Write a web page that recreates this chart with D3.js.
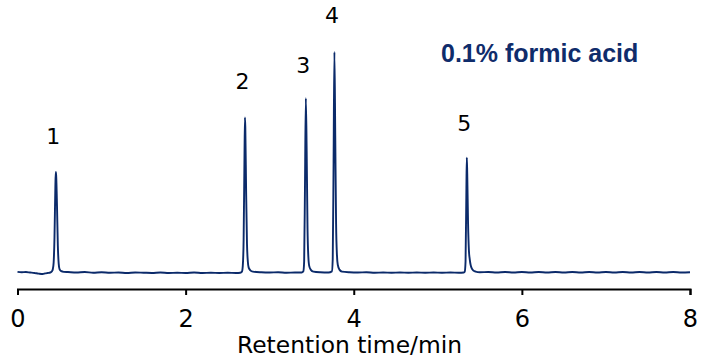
<!DOCTYPE html>
<html>
<head>
<meta charset="utf-8">
<script src="https://cdn.jsdelivr.net/npm/d3@7"></script>
<style>
  html, body { margin: 0; padding: 0; background: #fff; }
  svg { display: block; }
</style>
</head>
<body>
<svg id="chart" width="705" height="360"></svg>
<script>
// ---- Data ----
// x tick labels (minutes)
const xTicks = [0, 2, 4, 6, 8];
// peak numbers, retention times (min) and relative heights
const peakLabels = ["1", "2", "3", "4", "5"];
const peakTimes = [0.455, 2.706, 3.43, 3.77, 5.345];
const peakHeights = [45.6, 70.3, 79.0, 100, 52.1];
const title = "0.1% formic acid";
const xLabel = "Retention time/min";

// detector trace: [time (min), relative signal]
const trace = [
  [0.00, 0.3], [0.05, 0.1], [0.10, 0.2], [0.15, 0.0], [0.20, -0.2], [0.25, -0.5],
  [0.30, -0.7], [0.33, -0.4], [0.36, -0.2], [0.39, 0.0], [0.41, 0.6], [0.42, 1.5],
  [0.43, 4.5], [0.44, 16], [0.45, 38], [0.455, 45.6], [0.46, 44], [0.47, 30],
  [0.48, 12], [0.49, 4], [0.50, 1.5], [0.52, 0.6], [0.55, 0.3], [0.60, 0.2],
  [0.70, 0.0], [0.80, 0.2], [0.90, -0.1], [1.00, 0.1], [1.10, -0.1], [1.20, 0.0],
  [1.30, -0.2], [1.40, 0.0], [1.50, -0.1], [1.60, -0.2], [1.70, 0.0], [1.80, -0.2],
  [1.90, -0.1], [2.00, -0.2], [2.10, 0.0], [2.20, -0.2], [2.30, -0.1], [2.40, -0.2],
  [2.50, -0.1], [2.60, -0.2], [2.65, -0.1], [2.67, 0.4], [2.68, 3],
  [2.69, 15], [2.70, 52], [2.706, 70.3], [2.71, 66], [2.72, 36], [2.73, 13],
  [2.74, 5], [2.75, 2.2], [2.77, 1.0], [2.80, 0.4], [2.90, 0.1], [3.00, 0.0],
  [3.10, 0.1], [3.20, -0.1], [3.30, 0.0], [3.38, 0.0], [3.40, 0.5], [3.41, 5],
  [3.42, 40], [3.43, 79], [3.44, 55], [3.45, 20], [3.46, 7], [3.47, 3],
  [3.49, 1.2], [3.52, 0.4], [3.60, 0.1], [3.70, 0.0], [3.74, 0.5], [3.75, 6],
  [3.76, 50], [3.77, 100], [3.78, 62], [3.79, 22], [3.80, 8], [3.81, 3.5],
  [3.83, 1.3], [3.86, 0.4], [3.95, 0.1], [4.05, 0.0], [4.15, 0.1], [4.25, -0.1],
  [4.35, 0.0], [4.45, -0.1], [4.55, 0.0], [4.65, -0.1], [4.75, 0.0], [4.85, -0.1],
  [4.95, 0.0], [5.05, -0.1], [5.15, 0.0], [5.25, -0.1], [5.31, 0.0], [5.32, 0.3],
  [5.33, 5], [5.34, 38], [5.345, 52.1], [5.35, 45], [5.36, 22], [5.37, 10],
  [5.38, 6], [5.39, 3.5], [5.40, 2.2], [5.42, 1.0], [5.45, 0.4], [5.50, 0.1],
  [5.60, 0.2], [5.70, 0.0], [5.80, 0.2], [5.90, 0.0], [6.00, 0.2], [6.10, 0.0],
  [6.20, 0.2], [6.30, 0.0], [6.40, 0.2], [6.50, 0.0], [6.60, 0.2], [6.70, 0.0],
  [6.80, 0.2], [6.90, 0.0], [7.00, 0.2], [7.10, 0.0], [7.20, 0.2], [7.30, 0.0],
  [7.40, 0.2], [7.50, 0.0], [7.60, 0.2], [7.70, 0.0], [7.80, 0.2], [7.90, 0.0],
  [8.00, 0.1]
];

// ---- Layout ----
const svg = d3.select("#chart");
const lineColor = "#0b2a6a";
const x = d3.scaleLinear().domain([0, 8]).range([17.5, 690]);
const y = d3.scaleLinear().domain([0, 100]).range([272.5, 52]);
const axisY = 289;

// trace
const line = d3.line().x(d => x(d[0])).y(d => y(d[1])).curve(d3.curveMonotoneX);
svg.append("path")
  .datum(trace)
  .attr("d", line)
  .attr("fill", "none")
  .attr("stroke", lineColor)
  .attr("stroke-width", 1.9)
  .attr("stroke-linejoin", "round");

// x axis
const xAxis = d3.axisBottom(x).tickValues(xTicks).tickSize(6).tickSizeOuter(6)
  .tickFormat(d3.format("d"));
const gx = svg.append("g").attr("transform", `translate(0,${axisY})`).call(xAxis);
gx.select(".domain").attr("stroke", "#000").attr("stroke-width", 2);
gx.selectAll(".tick line").attr("stroke", "#000").attr("stroke-width", 2);
gx.selectAll(".tick text")
  .attr("y", 38).attr("dy", 0)
  .attr("fill", "#000")
  .style("font-family", "DejaVu Sans, sans-serif")
  .style("font-size", "24px");

// axis title
svg.append("text")
  .attr("x", 349.5).attr("y", 352.5)
  .attr("text-anchor", "middle")
  .attr("textLength", 225).attr("lengthAdjust", "spacingAndGlyphs")
  .style("font-family", "DejaVu Sans, sans-serif")
  .style("font-size", "23.5px")
  .attr("fill", "#000")
  .text(xLabel);

// peak labels
const labelOffsets = [36, 36, 33, 37, 35];
svg.selectAll(".plabel")
  .data(peakLabels)
  .join("text")
  .attr("class", "plabel")
  .attr("x", (d, i) => x(peakTimes[i]) - 2.5)
  .attr("y", (d, i) => y(peakHeights[i]) - labelOffsets[i] + 8)
  .attr("text-anchor", "middle")
  .style("font-family", "DejaVu Sans, sans-serif")
  .style("font-size", "22px")
  .attr("fill", "#000")
  .text(d => d);

// title
svg.append("text")
  .attr("x", 441).attr("y", 61.5)
  .style("font-family", "Liberation Sans, Arial, sans-serif")
  .style("font-weight", "bold")
  .style("font-size", "25px")
  .attr("fill", "#0f2c6b")
  .text(title);
</script>
</body>
</html>
